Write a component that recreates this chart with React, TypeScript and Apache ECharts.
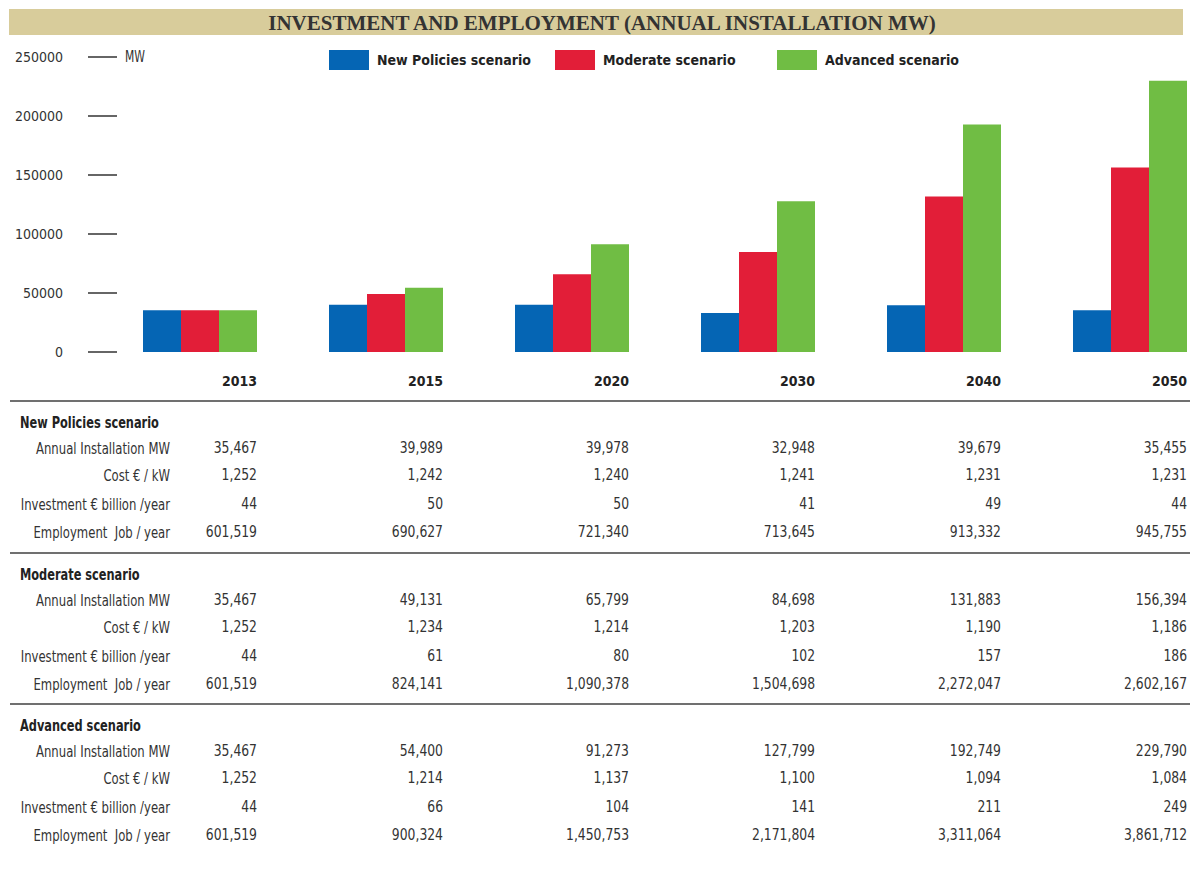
import React, { useEffect, useRef } from 'react';
import * as echarts from 'echarts';

const years = ['2013', '2015', '2020', '2030', '2040', '2050'];
const seriesNames = ['New Policies scenario', 'Moderate scenario', 'Advanced scenario'];
const seriesColors = ['#0565b4', '#e21e38', '#70bd44'];

const newPoliciesInstall = [35467, 39989, 39978, 32948, 39679, 35455];
const newPoliciesCost = [1252, 1242, 1240, 1241, 1231, 1231];
const newPoliciesInvest = [44, 50, 50, 41, 49, 44];
const newPoliciesJobs = [601519, 690627, 721340, 713645, 913332, 945755];

const moderateInstall = [35467, 49131, 65799, 84698, 131883, 156394];
const moderateCost = [1252, 1234, 1214, 1203, 1190, 1186];
const moderateInvest = [44, 61, 80, 102, 157, 186];
const moderateJobs = [601519, 824141, 1090378, 1504698, 2272047, 2602167];

const advancedInstall = [35467, 54400, 91273, 127799, 192749, 229790];
const advancedCost = [1252, 1214, 1137, 1100, 1094, 1084];
const advancedInvest = [44, 66, 104, 141, 211, 249];
const advancedJobs = [601519, 900324, 1450753, 2171804, 3311064, 3861712];

const rowLabels = ['Annual Installation MW', 'Cost € / kW', 'Investment € billion /year', 'Employment  Job / year'];

const yMin = 0;
const yMax = 250000;
const yStep = 50000;

const titleText = 'INVESTMENT AND EMPLOYMENT (ANNUAL INSTALLATION MW)';
const unitText = 'MW';

const FONT = "'DejaVu Sans Condensed', 'Liberation Sans', sans-serif";
const TXT = '#333333';

export default function App() {
  const ref = useRef<HTMLDivElement>(null);
  useEffect(() => {
    const chart = echarts.init(ref.current!, null, { renderer: 'svg' });
    const installs = [newPoliciesInstall, moderateInstall, advancedInstall];
    const legendLefts = [329, 555, 777];
    chart.setOption({
      animation: false,
      backgroundColor: '#ffffff',
      grid: { left: 107, width: 1116, top: 57, bottom: 533, containLabel: false, outerBoundsMode: 'none' },
      legend: seriesNames.map((n, i) => ({
        data: [n],
        left: legendLefts[i],
        top: 50,
        padding: 0,
        itemGap: 0,
        itemWidth: 40,
        itemHeight: 20,
        icon: 'rect',
        selectedMode: false,
        textStyle: { fontFamily: FONT, fontSize: 14, fontWeight: 'bold', color: '#222', padding: [0, 0, 0, 3] },
      })),
      xAxis: {
        type: 'category',
        data: years,
        axisLine: { show: false },
        axisTick: { show: false },
        axisLabel: {
          margin: 22,
          formatter: (v: string) => '{a|' + v + '}',
          rich: { a: { width: 114, align: 'right', fontFamily: FONT, fontSize: 14, fontWeight: 'bold', color: '#222' } },
        },
      },
      yAxis: {
        type: 'value',
        min: yMin,
        max: yMax,
        interval: yStep,
        offset: -10,
        splitLine: { show: false },
        axisLine: { show: false },
        axisTick: { show: true, length: 29, lineStyle: { color: '#333', width: 1.5 } },
        axisLabel: { margin: 54, fontFamily: FONT, fontSize: 14, color: TXT, formatter: (v: number) => String(v) },
      },
      series: seriesNames.map((n, i) => ({
        name: n,
        type: 'bar',
        data: installs[i],
        barWidth: 38,
        barGap: '0%',
        itemStyle: { color: seriesColors[i] },
      })),
    });

    const colRight = years.map((y) => (chart.convertToPixel({ xAxisIndex: 0 }, y) as number) + 57);
    const fmt = (v: number) => v.toLocaleString('en-US');
    const sections = [
      { name: seriesNames[0], top: 401, rows: [newPoliciesInstall, newPoliciesCost, newPoliciesInvest, newPoliciesJobs] },
      { name: seriesNames[1], top: 553, rows: [moderateInstall, moderateCost, moderateInvest, moderateJobs] },
      { name: seriesNames[2], top: 704, rows: [advancedInstall, advancedCost, advancedInvest, advancedJobs] },
    ];
    const rowOffsets = [47, 74, 103, 131];
    const g: any[] = [
      { type: 'rect', shape: { x: 9, y: 9, width: 1174, height: 26 }, style: { fill: '#d8cc9b' }, z: 0 },
      {
        type: 'text', x: 602, y: 23,
        style: { text: titleText, fill: '#333', font: "bold 21px 'Liberation Serif', serif", textAlign: 'center', textVerticalAlign: 'middle' },
      },
      {
        type: 'text', x: 125, y: 56, scaleX: 0.8,
        style: { text: unitText, fill: TXT, font: '15px ' + FONT, textAlign: 'left', textVerticalAlign: 'middle' },
      },
    ];
    sections.forEach((s) => {
      g.push({ type: 'line', shape: { x1: 10, y1: s.top, x2: 1190, y2: s.top }, style: { stroke: '#707070', lineWidth: 2 } });
      g.push({
        type: 'text', x: 20, y: s.top + 21, scaleX: 0.79,
        style: { text: s.name, fill: '#222', font: 'bold 16px ' + FONT, textAlign: 'left', textVerticalAlign: 'middle' },
      });
      s.rows.forEach((row, r) => {
        const y = s.top + rowOffsets[r];
        g.push({
          type: 'text', x: 170, y, scaleX: 0.81,
          style: { text: rowLabels[r], fill: TXT, font: '16px ' + FONT, textAlign: 'right', textVerticalAlign: 'middle' },
        });
        row.forEach((v, c) => {
          g.push({
            type: 'text', x: colRight[c], y, scaleX: 0.86,
            style: { text: fmt(v), fill: TXT, font: '16px ' + FONT, textAlign: 'right', textVerticalAlign: 'middle' },
          });
        });
      });
    });
    chart.setOption({ graphic: g });
    return () => chart.dispose();
  }, []);
  return <div ref={ref} style={{ position: 'absolute', left: 0, top: 0, width: 1191, height: 885 }} />;
}
